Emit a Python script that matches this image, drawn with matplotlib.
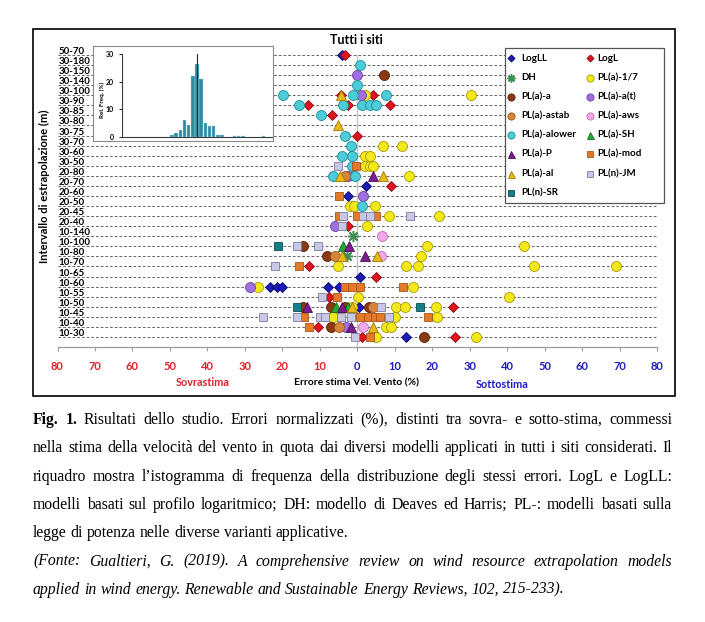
import matplotlib
matplotlib.use("Agg")
import matplotlib.pyplot as plt
import matplotlib.transforms as mtransforms
from matplotlib.patches import Rectangle

W, H, DPI = 705, 622, 100
FONT = ['Lato', 'DejaVu Sans']
SERIF = ['Liberation Serif', 'DejaVu Serif']
plt.rcParams['font.family'] = FONT

# ---------------- data ----------------
row_labels = ["10-30", "10-40", "10-45", "10-50", "10-55", "10-60", "10-65", "10-70",
              "10-80", "10-100", "10-140", "20-40", "20-45", "20-50", "20-60", "20-70",
              "20-80", "30-50", "30-60", "30-70", "30-75", "30-80", "30-85", "30-90",
              "30-100", "30-140", "30-150", "30-180", "50-70"]

logll_rows = ["50-70", "20-70", "20-60", "10-65", "10-60", "10-60", "10-60", "10-60", "10-60", "10-50", "10-30"]
logll_vals = [-4.2, 2.3, -2.6, 0.8, -23.3, -21.3, -20.0, -7.8, -4.9, 0.5, 12.9]

logl_rows = ["50-70", "30-100", "30-100", "30-90", "30-90", "30-90", "30-85", "30-75", "20-70",
             "20-40", "10-70", "10-65", "10-55", "10-50", "10-40", "10-30", "10-30"]
logl_vals = [-3.2, -4.4, 4.2, -13.1, -2.5, 8.8, -6.7, -0.1, 9.1, -2.4, -12.9, 4.9, -7.6, 25.6, -10.4, 1.3, 26.0]

dh_rows = ["10-140", "10-80"]
dh_vals = [-1.1, -2.8]

pl17_rows = ["30-100", "30-100", "30-70", "30-70", "30-60", "30-60", "30-50", "30-50", "30-50",
             "20-80", "20-50", "20-50", "20-50", "20-45", "20-45", "20-40", "10-100", "10-100",
             "10-80", "10-70", "10-70", "10-70", "10-70", "10-70", "10-60", "10-60", "10-55",
             "10-55", "10-50", "10-50", "10-50", "10-50", "10-45", "10-45", "10-45", "10-40",
             "10-40", "10-30", "10-30"]
pl17_vals = [2.0, 30.4, 6.8, 11.9, 2.0, 3.3, 2.0, 3.3, 4.2,
             13.8, -2.0, -0.9, 4.7, 8.5, 21.8, 2.6, 18.6, 44.4,
             17.1, -5.1, 13.1, 16.2, 47.3, 69.1, -26.4, 14.9, 0.2,
             40.5, -1.3, 10.4, 12.8, 20.9, -6.4, 10.0, 21.3, 7.6,
             9.0, 5.1, 31.8]

pla_rows = ["30-150", "10-100", "10-80", "10-50", "10-50", "10-50", "10-50", "10-40", "10-30"]
pla_vals = [7.1, -14.4, -8.2, -14.4, -6.9, -3.3, 3.2, -6.9, 17.8]

plat_rows = ["30-150", "30-100", "20-80", "20-60", "20-40", "10-60", "10-40"]
plat_vals = [0.0, 0.9, -2.4, 1.6, -6.0, -28.7, -3.0]

plastab_rows = ["20-80", "10-80", "10-50", "10-40"]
plastab_vals = [-3.3, -6.0, 4.3, -4.9]

plaws_rows = ["10-140", "10-80", "10-40"]
plaws_vals = [6.7, 6.3, 1.6]

plalow_rows = ["30-180", "30-140", "30-100", "30-100", "30-100", "30-90", "30-90", "30-90", "30-90",
               "30-90", "30-85", "30-75", "30-70", "30-60", "30-60", "30-50", "20-80", "20-80", "20-50"]
plalow_vals = [0.7, 0.0, -19.8, -1.1, 7.6, -15.5, -3.9, 1.2, 3.3,
               4.9, -9.6, -3.4, -1.8, -4.0, -1.5, -1.5, -6.5, -0.7, 1.3]

plsh_rows = ["10-100", "10-50", "10-50"]
plsh_vals = [-3.7, -5.7, -2.4]

plp_rows = ["20-80", "10-100", "10-80", "10-50", "10-50", "10-40"]
plp_vals = [4.2, -2.3, 2.1, -13.4, -4.2, -1.7]

plmod_rows = ["30-50", "20-60", "20-45", "20-45", "20-45", "10-70", "10-60", "10-60", "10-60",
              "10-60", "10-55", "10-45", "10-45", "10-45", "10-45", "10-45", "10-45", "10-40", "10-30"]
plmod_vals = [-0.3, -4.9, -5.0, -0.2, 5.1, -15.5, -3.3, -1.3, 0.7,
              12.2, -5.3, -14.2, 0.7, 2.9, 4.7, 6.2, 18.9, -12.8, 3.3]

plal_rows = ["30-100", "30-80", "20-80", "20-80", "10-80", "10-80", "10-50", "10-40"]
plal_vals = [-4.3, -5.1, -4.5, 6.9, -4.2, 5.3, -1.5, 4.2]

pljm_rows = ["30-50", "20-45", "20-45", "20-45", "20-45", "20-40", "10-100", "10-100", "10-70",
             "10-55", "10-50", "10-45", "10-45", "10-45", "10-45", "10-45", "10-45", "10-45", "10-30"]
pljm_vals = [-5.2, -3.8, 1.6, 3.3, 14.2, -4.1, -16.0, -10.4, -22.0,
             -9.3, 6.3, -25.1, -16.0, -10.0, -8.5, -4.3, -1.6, 8.5, -0.7]

plsr_rows = ["10-100", "10-50", "10-50"]
plsr_vals = [-21.1, -16.2, 16.7]

hist_centers = [-30, -25, -20, -15, -10, -5, 0, 5, 10, 15, 20, 25, 30, 45, 50, 55, 80]
hist_freq = [0.9, 1.6, 2.4, 6.1, 4.4, 22.0, 26.5, 21.0, 4.9, 4.0, 4.0, 0.9, 0.9, 0.4, 0.4, 0.4, 0.3]

xticks = list(range(-80, 81, 10))

# ---------------- styles ----------------
def st(marker, fc, ec, ms, mew=0.6):
    return dict(marker=marker, mfc=fc, mec=ec, ms=ms, mew=mew)

series = [
    ("LogLL", logll_rows, logll_vals, st('D', '#1c1cb4', '#0a0a70', 5.0)),
    ("LogL", logl_rows, logl_vals, st('D', '#e0141e', '#900a10', 5.0)),
    ("DH", dh_rows, dh_vals, st((8, 2, 0), '#3d8f52', '#3d8f52', 8.0, 1.1)),
    ("PL(a)-1/7", pl17_rows, pl17_vals, st('o', '#f2e81a', '#a89a00', 7.2)),
    ("PL(a)-a", pla_rows, pla_vals, st('o', '#8a3a12', '#5a2008', 7.2)),
    ("PL(a)-a(t)", plat_rows, plat_vals, st('o', '#a070e0', '#6a40a8', 7.2)),
    ("PL(a)-astab", plastab_rows, plastab_vals, st('o', '#d8843c', '#9a5418', 7.2)),
    ("PL(a)-aws", plaws_rows, plaws_vals, st('o', '#f4a8ec', '#b870b0', 7.2)),
    ("PL(a)-alower", plalow_rows, plalow_vals, st('o', '#4ccbd8', '#1e8c98', 7.2)),
    ("PL(a)-SH", plsh_rows, plsh_vals, st('^', '#22aa33', '#127020', 7.0)),
    ("PL(a)-P", plp_rows, plp_vals, st('^', '#7a1e8c', '#4c0c5a', 7.0)),
    ("PL(a)-mod", plmod_rows, plmod_vals, st('s', '#e47a28', '#a85418', 6.0)),
    ("PL(a)-al", plal_rows, plal_vals, st('^', '#e8b81c', '#a07a00', 7.0)),
    ("PL(n)-JM", pljm_rows, pljm_vals, st('s', '#c8c8e6', '#7c7ca4', 6.0)),
    ("PL(n)-SR", plsr_rows, plsr_vals, st('s', '#167f86', '#0a4e54', 6.0)),
]

# ---------------- figure ----------------
fig = plt.figure(figsize=(W / DPI, H / DPI), dpi=DPI)
fig.patch.set_facecolor('white')

def fx(x):
    return x / W

def fy(y):
    return 1 - y / H

x_left, x_right = 57.5, 657.0
y_top, y_bot = 55.0, 347.0
ax = fig.add_axes([fx(x_left), fy(y_bot), (x_right - x_left) / W, (y_bot - y_top) / H])
ax.set_facecolor('none')
ax.set_xlim(-80, 80)
ax.set_ylim(0, len(row_labels))
row_pos = {lab: i + 1 for i, lab in enumerate(row_labels)}

for lab, p in row_pos.items():
    ax.axhline(p, color='#6a6a6a', lw=0.75, ls=(0, (2.6, 1.9)), zorder=1, clip_on=False)
ax.axvline(0, color='#c4c4c4', lw=1.0, zorder=1)

for k, (name, rws, vals, sty) in enumerate(series):
    ys = [row_pos[r] for r in rws]
    ax.plot(vals, ys, linestyle='none', zorder=3 + k, clip_on=False, **sty)

lab_tr = mtransforms.offset_copy(ax.transData, fig=fig, x=1.0, y=1.0, units='dots')
for lab, p in row_pos.items():
    ax.text(-80, p, lab, transform=lab_tr, ha='left', va='baseline', fontsize=7,
            fontweight='bold', color='black', zorder=2)

for s in ['top', 'left', 'right']:
    ax.spines[s].set_visible(False)
ax.spines['bottom'].set_color('#9c9c9c')
ax.spines['bottom'].set_linewidth(0.9)
ax.set_yticks([])
ax.set_xticks(xticks)
ax.set_xticklabels([str(abs(v)) for v in xticks])
ax.tick_params(axis='x', length=3, width=0.8, color='#9c9c9c', pad=7, labelsize=8)
for v, tl in zip(xticks, ax.get_xticklabels()):
    tl.set_fontweight('bold')
    tl.set_color('#e0202a' if v < 0 else '#1c1cc0')

# ---------------- inset ----------------
box = fig.add_axes([fx(93), fy(141), 180 / W, 95 / H], zorder=5)
box.set_facecolor('white')
box.set_xticks([])
box.set_yticks([])
for s in box.spines.values():
    s.set_color('#8a8a8a')
    s.set_linewidth(0.8)

axh = fig.add_axes([fx(122), fy(137), 150 / W, 83 / H], zorder=6)
axh.set_facecolor('none')
axh.set_xlim(-90, 90)
axh.set_ylim(0, 30)
axh.bar(hist_centers, hist_freq, width=4.3, color='#2e8ca2', edgecolor='#a9d8e2', linewidth=0.3, zorder=2)
axh.plot([0, 0], [0, 30], color='#2a2a2a', lw=0.8, zorder=3)
axh.spines['top'].set_visible(False)
axh.spines['right'].set_visible(False)
for s in ['left', 'bottom']:
    axh.spines[s].set_color('#3a3a3a')
    axh.spines[s].set_linewidth(0.8)
axh.set_xticks([])
axh.set_yticks([0, 10, 20, 30])
axh.tick_params(axis='y', length=2, width=0.6, pad=4, labelsize=5)
for tl in axh.get_yticklabels():
    tl.set_fontweight('bold')

# ---------------- overlay (pixel coordinates) ----------------
ov = fig.add_axes([0, 0, 1, 1], zorder=10)
ov.set_xlim(0, W)
ov.set_ylim(H, 0)
ov.axis('off')

ov.add_patch(Rectangle((33, 29), 642, 367, fill=False, ec='black', lw=1.2))
ov.text(102, 100, "Rel. Freq. (%)", rotation=90, ha='center', va='center', fontsize=4.5, fontweight='bold')
ov.text(356, 40, "Tutti i siti", ha='center', va='center', fontsize=9, fontweight='bold')
ov.text(44, 186, "Intervallo di estrapolazione (m)", rotation=90, ha='center', va='center',
        fontsize=8, fontweight='bold')
ov.text(203, 383, "Sovrastima", ha='center', va='center', fontsize=7.8, fontweight='bold', color='#e0202a')
ov.text(357, 383, "Errore stima Vel. Vento (%)", ha='center', va='center', fontsize=7.5, fontweight='bold')
ov.text(502, 384, "Sottostima", ha='center', va='center', fontsize=7.8, fontweight='bold', color='#1c1cc0')

# legend
ov.add_patch(Rectangle((505, 48), 159, 155, fc='white', ec='#555555', lw=0.9, zorder=1))
col_mx = [510.7, 590.0]
col_tx = [521.5, 597.0]
for i, (name, rws, vals, sty) in enumerate(series):
    r, c = divmod(i, 2)
    y = 58.3 + r * 19.2
    lsty = dict(sty)
    lsty['ms'] = sty['ms'] * 0.72
    ov.plot([col_mx[c]], [y], linestyle='none', zorder=3, **lsty)
    ov.text(col_tx[c], y, name, ha='left', va='center', fontsize=7, fontweight='bold', zorder=3)

# ---------------- caption (justified) ----------------
renderer = fig.canvas.get_renderer()

def measure(s, fs, weight='normal', style='normal'):
    t = ov.text(0, 0, s, fontsize=fs, family=SERIF, fontweight=weight, fontstyle=style)
    w = t.get_window_extent(renderer).width
    t.remove()
    return w

cap_lines = [
    ([("Fig.", 'bold'), ("1.", 'bold')] + [(w, 'normal') for w in
      "Risultati dello studio. Errori normalizzati (%), distinti tra sovra- e sotto-stima, commessi".split()], 'normal', True),
    ([(w, 'normal') for w in
      "nella stima della velocità del vento in quota dai diversi modelli applicati in tutti i siti considerati. Il".split()], 'normal', True),
    ([(w, 'normal') for w in
      "riquadro mostra l’istogramma di frequenza della distribuzione degli stessi errori. LogL e LogLL:".split()], 'normal', True),
    ([(w, 'normal') for w in
      "modelli basati sul profilo logaritmico; DH: modello di Deaves ed Harris; PL-: modelli basati sulla".split()], 'normal', True),
    ([(w, 'normal') for w in
      "legge di potenza nelle diverse varianti applicative.".split()], 'normal', False),
    ([(w, 'normal') for w in
      "(Fonte: Gualtieri, G. (2019). A comprehensive review on wind resource extrapolation models".split()], 'italic', True),
    ([(w, 'normal') for w in
      "applied in wind energy. Renewable and Sustainable Energy Reviews, 102, 215-233).".split()], 'italic', False),
]

# fit the font size to the densest line
base_fs = 10.0
w2 = sum(measure(w, base_fs, wt) for w, wt in cap_lines[1][0])
sp2 = measure("a a", base_fs) - measure("aa", base_fs)
nat2 = w2 + sp2 * (len(cap_lines[1][0]) - 1)
cap_fs = base_fs * 626.0 / nat2
space = measure("a a", cap_fs) - measure("aa", cap_fs)

x0, x1 = 33.0, 672.0
line_y0, line_dy = 424.0, 28.3
for li, (words, style, justify) in enumerate(cap_lines):
    widths = [measure(w, cap_fs, wt, style) for w, wt in words]
    if justify:
        gap = (x1 - x0 - sum(widths)) / (len(words) - 1)
    else:
        gap = space
    x = x0
    yb = line_y0 + li * line_dy
    for (w, wt), wd in zip(words, widths):
        ov.text(x, yb, w, ha='left', va='baseline', fontsize=cap_fs, family=SERIF,
                fontweight=wt, fontstyle=style, color='black')
        x += wd + gap

fig.savefig("out.png", dpi=DPI, facecolor='white')
